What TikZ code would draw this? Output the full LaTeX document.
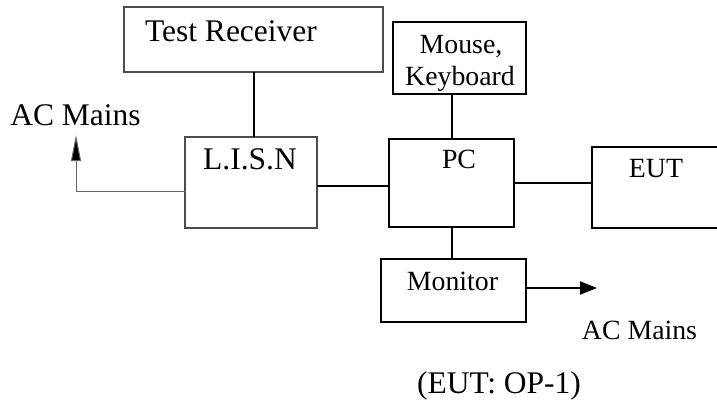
\documentclass[tikz,border=0pt]{standalone}
\usepackage{fontspec}
\setmainfont{Liberation Serif}
\usetikzlibrary{arrows.meta}
\begin{document}
\begin{tikzpicture}[x=1pt,y=-1pt,
  box/.style={draw=black,line width=2pt,rectangle,inner sep=0pt,outer sep=0pt},
  softbox/.style={draw=black!70,line width=1.3pt,rectangle,inner sep=0pt,outer sep=0pt},
  bigtxt/.style={inner sep=0pt,anchor=base,font=\fontsize{31.5}{36}\selectfont},
  smalltxt/.style={inner sep=0pt,anchor=base,font=\fontsize{27.8}{32}\selectfont},
  wire/.style={draw=black,line width=2pt},
  thinwire/.style={draw=black!60,line width=1pt,-{Triangle[length=26pt,width=10pt,fill=black]}},
  feed/.style={draw=black,line width=2pt,-{Triangle[length=17pt,width=13pt]}}]
\useasboundingbox (0,0) rectangle (717,405);
\fill[white] (0,0) rectangle (717,405);
\clip (0,0) rectangle (717,405);

% equipment blocks
\node[softbox,minimum width=259pt,minimum height=65pt] (tr) at (253.5,39.5) {};
\node[softbox,minimum width=132pt,minimum height=91pt] (lisn) at (251,182.5) {};
\node[box,minimum width=133pt,minimum height=72pt] (mk) at (459.5,58) {};
\node[box,minimum width=125pt,minimum height=88pt] (pc) at (451.5,183) {};
\node[box,minimum width=148pt,minimum height=81pt] (eut) at (666,187.5) {};
\node[box,minimum width=145pt,minimum height=63pt] (mon) at (453.5,290.5) {};

% block labels
\node[bigtxt] (trl) at (231,41.7) {Test Receiver};
\node[bigtxt] (lisnl) at (250,169) {L.I.S.N};
\node[smalltxt] (mkl1) at (461,53) {Mouse,};
\node[smalltxt] (mkl2) at (460,85) {Keyboard};
\node[smalltxt] (pcl) at (459,168) {PC};
\node[smalltxt] (eutl) at (656,177) {EUT};
\node[smalltxt] (monl) at (452.5,290) {Monitor};

% mains labels and caption
\node[bigtxt] (acl) at (75.5,125) {AC Mains};
\node[smalltxt] (acr) at (639.5,339) {AC Mains};
\node[bigtxt] (cap) at (499,393) {(EUT: OP-1)};

% cabling
\draw[wire] ([xshift=3pt]lisn.north) -- ([xshift=3pt]lisn.north |- tr.south);
\draw[wire] ([yshift=-3.5pt]lisn.east) -- ([yshift=-3.5pt]lisn.east -| pc.west);
\draw[wire] (pc.east) -- (pc.east -| eut.west);
\draw[wire] (pc.north) -- (pc.north |- mk.south);
\draw[wire] (pc.south) -- (pc.south |- mon.north);

% mains feeds
\coordinate (tipl) at (76,135);
\coordinate (tipr) at (597,288);
\draw[thinwire] ([yshift=-8.5pt]lisn.west) -| (tipl);
\draw[feed] ([yshift=2.5pt]mon.east) -- (tipr);
\end{tikzpicture}
\end{document}
